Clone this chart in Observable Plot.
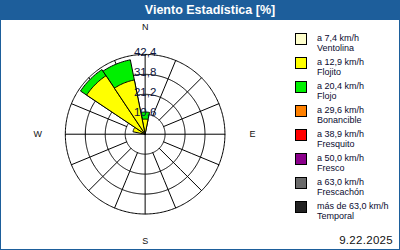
<!DOCTYPE html>
<html><head><meta charset="utf-8">
<script src="https://cdn.jsdelivr.net/npm/d3@7"></script>
<script src="https://cdn.jsdelivr.net/npm/@observablehq/plot@0.6"></script>
<style>
body{margin:0;background:#fff;}
#card{position:relative;width:400px;height:250px;box-sizing:border-box;border:1px solid #1d5e9b;border-top:none;font-family:"Liberation Sans",Arial,sans-serif;overflow:hidden;background:#fff;}
#title{height:20px;background:#1d5e9b;color:#fff;font-weight:bold;font-size:12.5px;line-height:21px;text-align:center;padding-left:20px;margin:0 -1px;}
#chart{position:absolute;left:-1px;top:20px;}
#legend{position:absolute;left:294px;top:33px;}
.item{height:24px;position:relative;}
.sw{position:absolute;left:0;top:0;width:10px;height:10px;border:1px solid #000;}
.lab{position:absolute;left:22px;top:1px;font-size:9px;line-height:9.5px;color:#0a0a30;white-space:nowrap;}
#date{position:absolute;right:6px;bottom:3px;font-size:11.5px;color:#111;letter-spacing:0.3px;}
</style>
</head><body>
<div id="card">
  <div id="title">Viento Estadística [%]</div>
  <div id="chart"></div>
  <div id="legend"></div>
  <div id="date"></div>
</div>
<script>
const directions = ["N","NNE","NE","ENE","E","ESE","SE","SSE","S","SSW","SW","WSW","W","WNW","NW","NNW"];
const ventolina  = [0,   0,0,0,0,0,0,0,0,0,0,0,0,0,   0,   0];
const flojito    = [8.0, 0,0,0,0,0,0,0,0,0,0,0,0,6.6, 37.4,29.4];
const flojo      = [3.8, 0,0,0,0,0,0,0,0,0,0,0,0,0,   3.9, 10.9];
const bonancible = [0,   0,0,0,0,0,0,0,0,0,0,0,0,0,   0,   0];
const fresquito  = [0,   0,0,0,0,0,0,0,0,0,0,0,0,0,   0,   0];
const fresco     = [0,   0,0,0,0,0,0,0,0,0,0,0,0,0,   0,   0];
const frescachon = [0,   0,0,0,0,0,0,0,0,0,0,0,0,0,   0,   0];
const temporal   = [0,   0,0,0,0,0,0,0,0,0,0,0,0,0,   0,   0];

const speedLabels = ["a 7,4 km/h","a 12,9 km/h","a 20,4 km/h","a 29,6 km/h","a 38,9 km/h","a 50,0 km/h","a 63,0 km/h","más de 63,0 km/h"];
const speedNames  = ["Ventolina","Flojito","Flojo","Bonancible","Fresquito","Fresco","Frescachón","Temporal"];
const speedColors = ["#ffffcc","#ffff00","#00f000","#ff8000","#ff0000","#8b008b","#6a6a6a","#222222"];
const ringValues = [10.6, 21.2, 31.8, 42.4];
const compassLabels = ["N","E","S","W"];
const dateLabel = "9.22.2025";

const series = [ventolina, flojito, flojo, bonancible, fresquito, fresco, frescachon, temporal];
const maxR = d3.max(ringValues);
const step = 360 / directions.length;
const lonOf = b => 180 - b;          // compass bearing -> longitude in the polar projection
const latOf = v => 90 - v;           // radial value -> latitude

// stacked wedge rows (outer layers first so inner ones overlay)
const wedges = [];
for (let k = series.length - 1; k >= 0; k--) {
  directions.forEach((dir, i) => {
    if (series[k][i] <= 0) return;
    let outer = 0;
    for (let j = 0; j <= k; j++) outer += series[j][i];
    wedges.push({dir, bearing: i * step, outer, color: speedColors[k]});
  });
}
function sector(b, v) {
  const a0 = b - step / 2, a1 = b + step / 2, eps = 0.001;
  const pts = [[lonOf(a0), latOf(eps)]];
  for (let a = a0; a < a1; a += 1.5) pts.push([lonOf(a), latOf(v)]);
  pts.push([lonOf(a1), latOf(v)]);
  pts.push([lonOf(a1), latOf(eps)]);
  pts.push(pts[0]);
  return {type: "Polygon", coordinates: [pts]};
}
const spokes = directions.map((d, i) => ({bearing: i * step, inner: (i % 4 === 0) ? 0 : ringValues[0]}));
const compass = compassLabels.map((c, i) => ({label: c, bearing: i * 90}));

const chart = Plot.plot({
  width: 400, height: 230,
  marginLeft: 65, marginRight: 175, marginTop: 34, marginBottom: 36,
  projection: {type: "azimuthal-equidistant", rotate: [0, -90], clip: false,
               domain: d3.geoCircle().center([0, 90]).radius(maxR).precision(1)()},
  style: {fontFamily: "Liberation Sans, Arial, sans-serif", background: "transparent", overflow: "visible"},
  marks: [
    Plot.geo(ringValues, {geometry: r => d3.geoCircle().center([0, 90]).radius(r).precision(1)(), stroke: "#000", strokeWidth: 1, strokeOpacity: 1, fill: "none"}),
    Plot.geo(spokes, {geometry: s => ({type: "LineString", coordinates: [[lonOf(s.bearing), latOf(s.inner + 0.0001)], [lonOf(s.bearing), latOf(maxR)]]}), stroke: "#000", strokeWidth: 1, strokeOpacity: 1}),
    Plot.geo(wedges, {geometry: w => sector(w.bearing, w.outer), fill: w => w.color, stroke: "#000", strokeWidth: 1, strokeOpacity: 1}),
    Plot.text(ringValues, {x: () => 180, y: r => latOf(r), text: r => r.toFixed(1).replace(".", ","), lineAnchor: "bottom", dy: 2, fontSize: 11.5, fill: "#0b1540"}),
    Plot.text(compass, {x: c => lonOf(c.bearing), y: () => latOf(maxR * 1.345), text: "label", fontSize: 9, fill: "#111"})
  ]
});
document.getElementById("chart").appendChild(chart);

const legend = d3.select("#legend");
speedNames.forEach((name, i) => {
  const it = legend.append("div").attr("class", "item");
  it.append("div").attr("class", "sw").style("background", speedColors[i]);
  it.append("div").attr("class", "lab").html(speedLabels[i] + "<br>" + name);
});
document.getElementById("date").textContent = dateLabel;
</script>
</body></html>
